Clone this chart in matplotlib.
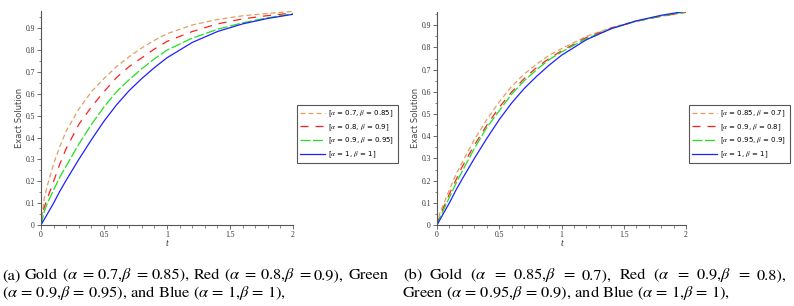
import numpy as np
import matplotlib
matplotlib.use("Agg")
import matplotlib.pyplot as plt
from matplotlib.ticker import MultipleLocator

plt.rcParams['lines.scale_dashes'] = False
plt.rcParams['mathtext.fontset'] = 'stix'

# sample times
t = [0, 0.025, 0.05, 0.1, 0.15, 0.2, 0.3, 0.4, 0.5, 0.6, 0.7, 0.8, 0.9, 1.0, 1.2, 1.4, 1.6, 1.8, 2.0]

# panel (a)
gold_a = [0, 0.12, 0.18, 0.28, 0.36, 0.43, 0.53, 0.61, 0.67, 0.725, 0.77, 0.81, 0.845, 0.875, 0.915, 0.94, 0.957, 0.968, 0.977]
red_a = [0, 0.08, 0.12, 0.20, 0.28, 0.35, 0.46, 0.54, 0.61, 0.675, 0.725, 0.765, 0.805, 0.84, 0.885, 0.92, 0.943, 0.958, 0.97]
green_a = [0, 0.06, 0.10, 0.16, 0.22, 0.27, 0.37, 0.46, 0.54, 0.61, 0.665, 0.715, 0.76, 0.80, 0.855, 0.895, 0.925, 0.948, 0.966]
blue_a = [0, 0.025, 0.05, 0.10, 0.155, 0.205, 0.30, 0.39, 0.475, 0.55, 0.615, 0.67, 0.72, 0.765, 0.835, 0.885, 0.92, 0.945, 0.964]
labels_a = [r'[$\alpha$ = 0.7, $\beta$ = 0.85]', r'[$\alpha$ = 0.8, $\beta$ = 0.9]',
            r'[$\alpha$ = 0.9, $\beta$ = 0.95]', r'[$\alpha$ = 1, $\beta$ = 1]']

# panel (b)
gold_b = [0, 0.06, 0.09, 0.16, 0.225, 0.28, 0.385, 0.475, 0.555, 0.625, 0.68, 0.725, 0.765, 0.795, 0.85, 0.89, 0.92, 0.94, 0.958]
red_b = [0, 0.045, 0.075, 0.14, 0.20, 0.26, 0.36, 0.45, 0.53, 0.60, 0.66, 0.71, 0.75, 0.785, 0.845, 0.887, 0.918, 0.941, 0.959]
green_b = [0, 0.035, 0.065, 0.125, 0.185, 0.24, 0.345, 0.44, 0.515, 0.59, 0.65, 0.70, 0.745, 0.78, 0.84, 0.885, 0.918, 0.942, 0.961]
blue_b = blue_a
labels_b = [r'[$\alpha$ = 0.85, $\beta$ = 0.7]', r'[$\alpha$ = 0.9, $\beta$ = 0.8]',
            r'[$\alpha$ = 0.95, $\beta$ = 0.9]', r'[$\alpha$ = 1, $\beta$ = 1]']

caption_a = [r'(a) Gold ($\alpha$ = 0.7,$\beta$ = 0.85), Red ($\alpha$ = 0.8,$\beta$ = 0.9), Green',
             r'($\alpha$ = 0.9,$\beta$ = 0.95), and Blue ($\alpha$ = 1,$\beta$ = 1),']
caption_b = [r'(b) Gold ($\alpha$ = 0.85,$\beta$ = 0.7), Red ($\alpha$ = 0.9,$\beta$ = 0.8),',
             r'Green ($\alpha$ = 0.95,$\beta$ = 0.9), and Blue ($\alpha$ = 1,$\beta$ = 1),']

colors = ['#E0A060', '#FF2020', '#20E020', '#2020FF']
dashes = [(3.6, 2.2), (5.8, 5.0), (7.2, 1.8), None]

W, H = 794, 306
fig = plt.figure(figsize=(W / 100, H / 100), dpi=100)


def panel(rect, series, labels, ytop, legx, ylx):
    ax = fig.add_axes(rect)
    for ys, c, d, lab in zip(series, colors, dashes, labels):
        if d is None:
            ax.plot(t, ys, color=c, lw=0.9, label=lab)
        else:
            ax.plot(t, ys, color=c, lw=0.9, dashes=d, label=lab)
    ax.set_xlim(0, 2)
    ax.set_ylim(0, ytop)
    for s in ['top', 'right']:
        ax.spines[s].set_visible(False)
    for s in ['left', 'bottom']:
        ax.spines[s].set_color('#555555')
        ax.spines[s].set_linewidth(0.8)
    ax.xaxis.set_minor_locator(MultipleLocator(0.1))
    ax.yaxis.set_minor_locator(MultipleLocator(0.05))
    ax.set_xticks([0, 0.5, 1, 1.5, 2])
    ax.set_xticklabels(['0', '0.5', '1', '1.5', '2'])
    ax.set_yticks([0, 0.1, 0.2, 0.3, 0.4, 0.5, 0.6, 0.7, 0.8, 0.9])
    ax.set_yticklabels(['0', '0.1', '0.2', '0.3', '0.4', '0.5', '0.6', '0.7', '0.8', '0.9'])
    ax.tick_params(which='major', length=3, width=0.6, color='#555555', labelsize=5.5, pad=1.5)
    ax.tick_params(which='minor', length=1.8, width=0.5, color='#555555')
    for lb in ax.get_xticklabels() + ax.get_yticklabels():
        lb.set_family('Liberation Serif')
        lb.set_color('#333333')
    ax.set_xlabel('t', family='Liberation Serif', style='italic', fontsize=7, labelpad=0, color='#333333')
    fig.text(ylx / W, 1 - 118 / H, 'Exact Solution', rotation=90, fontsize=6, color='#444444',
             ha='center', va='center', family='DejaVu Sans')
    leg = ax.legend(loc='upper left', bbox_to_anchor=(legx / W, 1 - 105 / H), bbox_transform=fig.transFigure,
                    borderaxespad=0, fontsize=5, handlelength=3.6, handletextpad=0.4, labelspacing=0.45,
                    borderpad=0.5, fancybox=False, framealpha=1)
    leg.get_frame().set_edgecolor('#555555')
    leg.get_frame().set_linewidth(0.8)
    return ax


panel([41 / W, 1 - 225 / H, 252 / W, 214 / H], [gold_a, red_a, green_a, blue_a], labels_a, 0.979, 297, 20)
panel([437 / W, 1 - 225 / H, 249 / W, 213 / H], [gold_b, red_b, green_b, blue_b], labels_b, 0.96, 689, 416)

cap_kw = dict(fontsize=11.8, family='STIXGeneral', va='baseline', ha='left', color='black')
renderer = fig.canvas.get_renderer()


def justified(line, x0, x1, ybase):
    # spread the words of one caption line evenly between x0 and x1 (pixels)
    words = line.split(' ')
    arts = [fig.text(0, 1 - ybase / H, w, **cap_kw) for w in words]
    widths = [a.get_window_extent(renderer).width for a in arts]
    gap = (x1 - x0 - sum(widths)) / (len(words) - 1)
    x = x0
    for a, w in zip(arts, widths):
        a.set_x(x / W)
        x += w + gap


justified(caption_a[0], 2, 388, 279)
fig.text(2 / W, 1 - 297 / H, caption_a[1], **cap_kw)
justified(caption_b[0], 403, 787, 279)
fig.text(402 / W, 1 - 297 / H, caption_b[1], **cap_kw)

fig.savefig('out.png', dpi=100)
